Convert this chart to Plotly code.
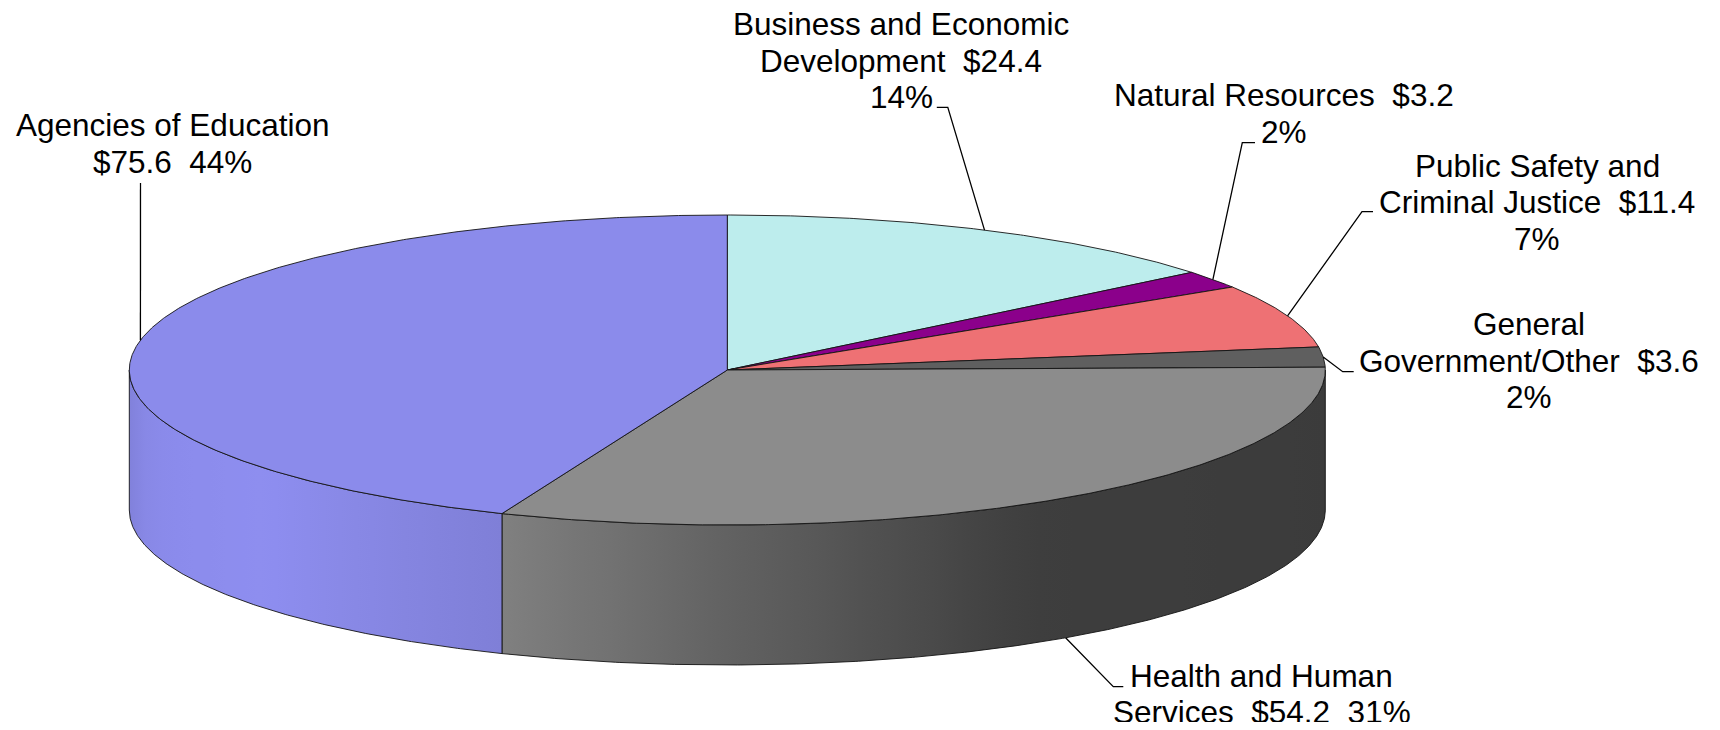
import numpy as np
import plotly.graph_objects as go

# slices in drawing order, clockwise from 12 o'clock
categories = [
    "Business and Economic Development",
    "Natural Resources",
    "Public Safety and Criminal Justice",
    "General Government/Other",
    "Health and Human Services",
    "Agencies of Education",
]
values = [24.4, 3.2, 11.4, 3.6, 54.2, 75.6]
# word index at which each data label wraps to a new line
label_breaks = [[3, 5], [3], [3, 6], [1, 3], [3], [3]]

TOP_COLORS = ["#BDEDED", "#8B008B", "#EE7174", "#5F5F5F", "#8C8C8C", "#8B8BEB"]
EDGE = "rgba(20,20,20,0.9)"
FONT = "Arial, Liberation Sans, sans-serif"
FSIZE = 31.5
LINE_GAP = 36.7

# pie geometry in page pixels
CX, CY, RX, RY, DEPTH = 727.3, 370.0, 598.0, 155.0, 140.0

# side-wall lighting (angle clockwise from top -> brightness factor)
SHADE_ANG = [90, 150, 180, 202, 230, 250, 270]
SHADE_VAL = [0.42, 0.44, 0.70, 0.915, 1.02, 1.0, 0.93]

# label placement: centre x, first baseline y, leader elbow points
LABEL_POS = [(901, 35), (1283.5, 106), (1537, 176.7), (1528.5, 335), (1261.5, 686.7), (172, 136)]
LEADERS = [
    [(947.8, 107.3), (936.8, 107.3)],
    [(1242.3, 142.7), (1255, 142.7)],
    [(1362, 211.7), (1373, 211.7)],
    [(1342.7, 371.7), (1353.7, 371.7)],
    [(1113.3, 686.7), (1123.3, 686.7)],
    [(140.5, 183)],
]

# the page body keeps an 8px margin, so the axes map straight onto page pixels
PAGE_PAD = 8


def ell(theta_deg, drop=0.0):
    t = np.radians(theta_deg)
    return CX + RX * np.sin(t), CY - RY * np.cos(t) + drop


def scale_color(hex_color, f):
    h = hex_color.lstrip("#")
    rgb = [int(h[i:i + 2], 16) for i in (0, 2, 4)]
    rgb = [int(min(255, max(0, round(c * f)))) for c in rgb]
    return "rgb({},{},{})".format(*rgb)


def label_lines(name, val, pct, breaks):
    segs = name.split(" ") + ["${:.1f}".format(val), "{}%".format(pct)]
    n_name = len(name.split(" "))
    lines, cur = [], segs[0]
    for i in range(1, len(segs)):
        if i in breaks:
            lines.append(cur)
            cur = segs[i]
        else:
            sep = " " if i < n_name else "\u00a0 "
            cur = cur + sep + segs[i]
    lines.append(cur)
    return lines


total = sum(values)
fracs = [v / total for v in values]
pcts = [int(round(f * 100)) for f in fracs]
ends = np.cumsum([f * 360 for f in fracs])
starts = np.concatenate([[0], ends[:-1]])

fig = go.Figure()

# side walls (front half only)
for a, b, col in zip(starts, ends, TOP_COLORS):
    lo, hi = max(a, 90), min(b, 270)
    if hi <= lo:
        continue
    th = np.linspace(lo, hi, max(3, int((hi - lo) * 3)))
    xt, yt = ell(th)
    xb, yb = ell(th[::-1], DEPTH)
    xs = np.concatenate([xt, xb, xt[:1]])
    ys = np.concatenate([yt, yb, yt[:1]])
    x0, x1 = float(xt.min()), float(xt.max())
    samp = np.linspace(0, 1, 24)
    sx = x0 + samp * (x1 - x0)
    # x -> angle on the front half
    sang = 180 - np.degrees(np.arcsin(np.clip((sx - CX) / RX, -1, 1)))
    scale = [[float(s), scale_color(col, np.interp(g, SHADE_ANG, SHADE_VAL))] for s, g in zip(samp, sang)]
    fig.add_trace(go.Scatter(
        x=xs, y=ys, mode="lines", fill="toself",
        fillgradient=dict(type="horizontal", colorscale=scale, start=x0, stop=x1),
        line=dict(color=EDGE, width=1),
        hoverinfo="skip", showlegend=False,
    ))

# top faces
for a, b, col, name in zip(starts, ends, TOP_COLORS, categories):
    th = np.linspace(a, b, max(3, int((b - a) * 3)))
    xa, ya = ell(th)
    xs = np.concatenate([[CX], xa, [CX]])
    ys = np.concatenate([[CY], ya, [CY]])
    fig.add_trace(go.Scatter(
        x=xs, y=ys, mode="lines", fill="toself", fillcolor=col,
        line=dict(color=EDGE, width=1),
        name=name, hoverinfo="name", showlegend=False,
    ))

# data labels and leader lines
annotations = []
for i, (name, val, pct) in enumerate(zip(categories, values, pcts)):
    a, b = starts[i], ends[i]
    mid = (a + b) / 2
    front = 90 < mid < 270
    ax, ay = ell(mid, DEPTH if front else 0.0)
    pts = [(ax, ay)] + LEADERS[i]
    fig.add_trace(go.Scatter(
        x=[p[0] for p in pts], y=[p[1] for p in pts], mode="lines",
        line=dict(color="black", width=1.3),
        hoverinfo="skip", showlegend=False,
    ))
    lx, ly = LABEL_POS[i]
    for k, txt in enumerate(label_lines(name, val, pct, label_breaks[i])):
        annotations.append(dict(
            x=lx, y=ly + k * LINE_GAP - 0.35 * FSIZE, xref="x", yref="y",
            text=txt, showarrow=False, xanchor="center", yanchor="middle",
            font=dict(family=FONT, size=FSIZE, color="black"),
        ))

fig.update_layout(
    paper_bgcolor="white",
    plot_bgcolor="white",
    margin=dict(l=0, r=0, t=0, b=0),
    xaxis=dict(range=[PAGE_PAD, 1720 - PAGE_PAD], visible=False, fixedrange=True),
    yaxis=dict(range=[730 - PAGE_PAD, PAGE_PAD], visible=False, fixedrange=True),
    annotations=annotations,
    showlegend=False,
)

fig.write_html("out.html")
